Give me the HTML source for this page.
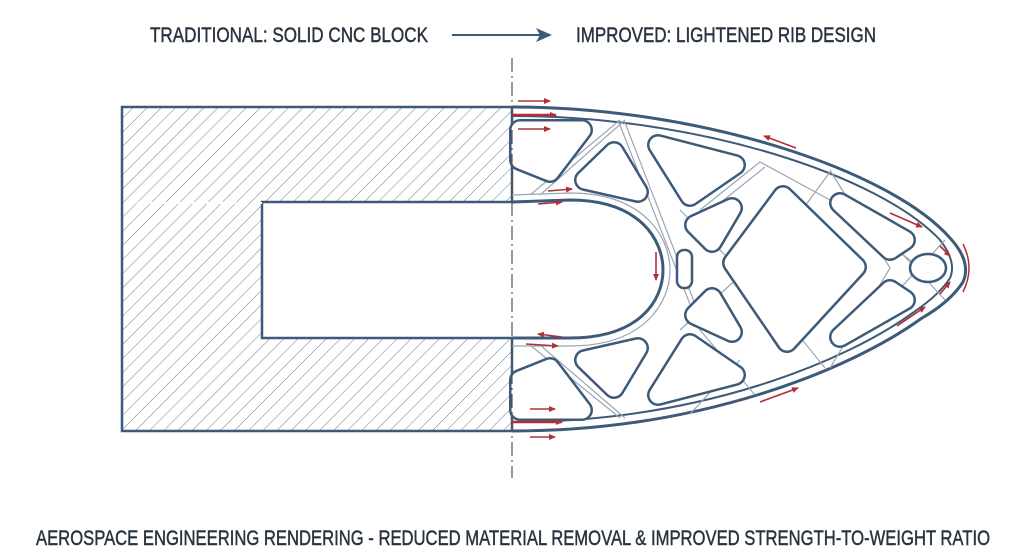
<!DOCTYPE html>
<html><head><meta charset="utf-8"><style>
html,body{margin:0;padding:0;background:#fff;width:1024px;height:559px;overflow:hidden}
svg{display:block}
text{font-family:"Liberation Sans Narrow","Liberation Sans",sans-serif;fill:#28333f;stroke:#28333f;stroke-width:0.45}
</style></head><body>
<svg width="1024" height="559" viewBox="0 0 1024 559" xmlns="http://www.w3.org/2000/svg">
<defs>
<pattern id="h" width="10" height="10" patternUnits="userSpaceOnUse" patternTransform="rotate(45)">
<line x1="0" y1="0" x2="0" y2="10" stroke="#6a7f94" stroke-width="1"/>
</pattern>
<marker id="ar" markerWidth="8" markerHeight="8" refX="6" refY="4" orient="auto" markerUnits="userSpaceOnUse"><path d="M0,1 L7,4 L0,7z" fill="#b0303a"/></marker>
<marker id="ab" markerWidth="16" markerHeight="14" refX="14" refY="7" orient="auto" markerUnits="userSpaceOnUse"><path d="M0,0 L16,7 L0,14 L4,7z" fill="#3d5a78"/></marker>
</defs>
<text x="150" y="42" font-size="21" textLength="278" lengthAdjust="spacingAndGlyphs">TRADITIONAL: SOLID CNC BLOCK</text>
<line x1="452" y1="35" x2="550" y2="35" stroke="#3d5a78" stroke-width="2" marker-end="url(#ab)"/>
<text x="576" y="42" font-size="21" textLength="300" lengthAdjust="spacingAndGlyphs">IMPROVED: LIGHTENED RIB DESIGN</text>
<text x="36" y="545" font-size="21" textLength="954" lengthAdjust="spacingAndGlyphs">AEROSPACE ENGINEERING RENDERING - REDUCED MATERIAL REMOVAL &amp; IMPROVED STRENGTH-TO-WEIGHT RATIO</text>

<path d="M122,107 H512 V202 H262 V338 H512 V431 H122 Z" fill="url(#h)" stroke="#3d5a78" stroke-width="2.5"/>
<line x1="124" y1="203" x2="262" y2="203" stroke="#fff" stroke-width="2" stroke-dasharray="8 5"/>

<path d="M512,107 C700,107 890,170 950,238 Q972,262 963,282 Q950,302 922,318 C850,370 700,431 512,431" fill="none" stroke="#3d5a78" stroke-width="3"/>
<path d="M512,116 C700,116 880,176 940,240 Q957,262 950,278 Q940,294 914,312 C845,362 700,422 512,422" fill="none" stroke="#3d5a78" stroke-width="2"/>
<path d="M512,195 L570,193 C645,193 670,238 670,270 C670,302 645,346 570,346 L512,346" fill="none" stroke="#9aa6b2" stroke-width="1.2"/>
<path d="M512,202 L570,200 C640,200 663,240 663,270 C663,300 640,338 570,338 L512,338" fill="none" stroke="#3d5a78" stroke-width="3"/>

<g stroke="#9aa6b2" stroke-width="1.2" fill="none">
<path d="M530,195 L620,120"/><path d="M540,195 L625,120"/>
<path d="M618,120 L700,330 L755,395"/><path d="M624,120 L705,330"/>
<path d="M700,210 L760,162 L830,200 L930,275"/><path d="M705,215 L765,167"/>
<path d="M830,170 L890,268 L830,368"/><path d="M680,330 L780,240 L830,172"/>
<path d="M680,210 L770,300 L825,368"/><path d="M690,414 L740,360"/>
<path d="M530,345 L620,418"/><path d="M540,345 L625,418"/>
<path d="M880,230 L945,300"/><path d="M880,310 L945,240"/>
</g>

<g stroke-linejoin="round">
<g fill="#3d5a78" stroke="#3d5a78" stroke-width="22">
<polygon points="520,130 582,130 550,172 520,160"/>
<polygon points="614,152 638,192 585,180"/>
<polygon points="658,145 735,165 690,196"/>
<polygon points="732,208 712,242 695,225"/>
<polygon points="783,196 856,267 787,342 733,263"/>
<polygon points="840,203 905,240 890,250"/>
<polygon points="840,337 905,300 890,290"/>
<polygon points="732,332 712,298 695,315"/>
<polygon points="658,395 735,375 690,344"/>
<polygon points="614,388 638,348 585,360"/>
<polygon points="520,410 582,410 550,368 520,380"/>
</g>
<g fill="#fff" stroke="#fff" stroke-width="17">
<polygon points="520,130 582,130 550,172 520,160"/>
<polygon points="614,152 638,192 585,180"/>
<polygon points="658,145 735,165 690,196"/>
<polygon points="732,208 712,242 695,225"/>
<polygon points="783,196 856,267 787,342 733,263"/>
<polygon points="840,203 905,240 890,250"/>
<polygon points="840,337 905,300 890,290"/>
<polygon points="732,332 712,298 695,315"/>
<polygon points="658,395 735,375 690,344"/>
<polygon points="614,388 638,348 585,360"/>
<polygon points="520,410 582,410 550,368 520,380"/>
</g>
</g>
<rect x="677" y="250" width="15" height="38" rx="7" fill="#fff" stroke="#3d5a78" stroke-width="2.5"/>
<ellipse cx="928" cy="268" rx="18" ry="14" fill="#fff" stroke="#3d5a78" stroke-width="2.5"/>

<line x1="512" y1="58" x2="512" y2="478" stroke="#555" stroke-width="1.2" stroke-dasharray="14 4 2 4"/>

<g stroke="#b0303a" stroke-width="1.6" fill="none" marker-end="url(#ar)">
<line x1="518" y1="101" x2="550" y2="101"/>
<line x1="512" y1="115" x2="556" y2="115" stroke-width="2.5"/>
<line x1="518" y1="129" x2="550" y2="129"/>
<line x1="548" y1="191" x2="572" y2="189"/>
<line x1="538" y1="204" x2="562" y2="202"/>
<line x1="796" y1="148" x2="764" y2="136"/>
<line x1="890" y1="213" x2="922" y2="227"/>
<line x1="940" y1="246" x2="950" y2="256"/>
<line x1="940" y1="294" x2="950" y2="282"/>
<line x1="897" y1="326" x2="925" y2="307"/>
<line x1="760" y1="402" x2="798" y2="388"/>
<line x1="656" y1="252" x2="656" y2="280"/>
<line x1="562" y1="337" x2="538" y2="334"/>
<line x1="526" y1="344" x2="558" y2="346"/>
<line x1="530" y1="409" x2="555" y2="409"/>
<line x1="512" y1="422" x2="562" y2="422" stroke-width="2.5"/>
<line x1="530" y1="437" x2="555" y2="437"/>
</g>
<path d="M963,244 Q975,268 963,292" stroke="#b0303a" stroke-width="1.5" fill="none"/>
</svg>
</body></html>
